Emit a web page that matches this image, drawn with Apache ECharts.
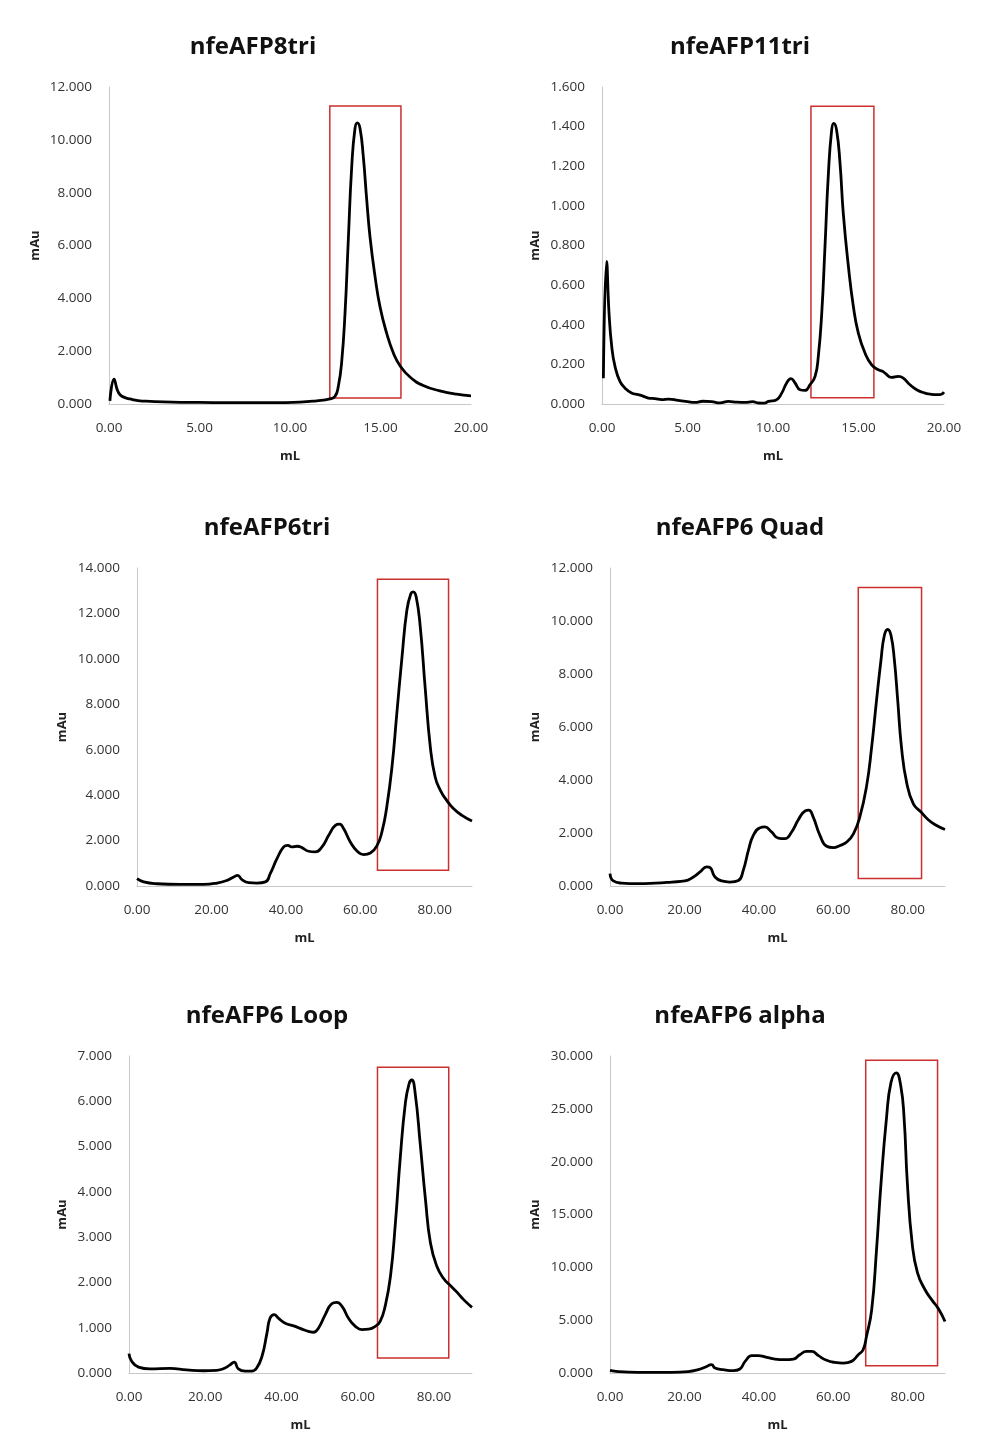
<!DOCTYPE html>
<html><head><meta charset="utf-8">
<script src="https://cdn.jsdelivr.net/npm/echarts@6/dist/echarts.min.js"></script>
<style>html,body{margin:0;padding:0;background:#fff}#c{width:990px;height:1453px}</style>
</head><body><div id="c"></div>
<script>
// Chart titles
const titles = ['nfeAFP8tri', 'nfeAFP11tri', 'nfeAFP6tri', 'nfeAFP6 Quad', 'nfeAFP6 Loop', 'nfeAFP6 alpha'];

// nfeAFP8tri
const ml1 = [0.05, 0.28, 0.45, 0.61, 0.85, 1.16, 1.6, 2.27, 3.5, 5, 7, 9, 10.55, 11.47, 12.2, 12.49, 12.67, 12.85, 13.04, 13.22, 13.41, 13.59, 13.72, 13.87, 14.05, 14.24, 14.42, 14.7, 14.97, 15.34, 15.71, 16.08, 16.63, 17.36, 18.28, 19.2, 20.0];
const mau1 = [0.12, 0.94, 0.55, 0.35, 0.25, 0.19, 0.13, 0.1, 0.07, 0.06, 0.05, 0.05, 0.07, 0.12, 0.19, 0.29, 0.67, 1.55, 3.44, 6.2, 8.98, 10.43, 10.64, 10.43, 9.36, 7.72, 6.33, 4.82, 3.69, 2.68, 1.93, 1.45, 1.02, 0.7, 0.5, 0.37, 0.31];

// nfeAFP11tri
const ml2 = [0.08, 0.27, 0.41, 0.57, 0.76, 1.05, 1.35, 1.73, 2.12, 2.4, 2.71, 3.1, 3.49, 3.9, 4.46, 5.0, 5.44, 5.9, 6.41, 6.9, 7.39, 7.9, 8.36, 8.8, 9.14, 9.5, 9.73, 10.21, 10.51, 10.8, 11.05, 11.29, 11.58, 11.87, 12.16, 12.46, 12.65, 12.85, 13.04, 13.24, 13.43, 13.55, 13.72, 13.92, 14.11, 14.41, 14.7, 14.99, 15.38, 15.77, 16.16, 16.4, 16.55, 16.94, 17.33, 17.62, 18.01, 18.4, 18.89, 19.2, 19.47, 19.77, 20.0];
const mau2 = [0.13, 0.72, 0.46, 0.29, 0.19, 0.114, 0.08, 0.055, 0.047, 0.04, 0.03, 0.027, 0.022, 0.025, 0.018, 0.012, 0.008, 0.014, 0.012, 0.006, 0.013, 0.009, 0.008, 0.012, 0.005, 0.004, 0.013, 0.022, 0.055, 0.106, 0.128, 0.106, 0.072, 0.069, 0.097, 0.139, 0.24, 0.458, 0.794, 1.164, 1.382, 1.416, 1.382, 1.214, 0.962, 0.694, 0.492, 0.358, 0.257, 0.198, 0.173, 0.165, 0.156, 0.134, 0.139, 0.131, 0.097, 0.072, 0.055, 0.05, 0.047, 0.047, 0.06];

// nfeAFP6tri
const ml3 = [0, 1.8, 5.4, 11.6, 17.9, 21.5, 24.2, 26, 27.03, 28.2, 30, 32.2, 34.5, 35.8, 37.6, 39.4, 40.5, 41.6, 43, 44.3, 46.1, 47.9, 49.7, 51.5, 53.3, 54.4, 55.5, 57.3, 59.1, 60.9, 62.7, 64.5, 65.8, 67.1, 68.5, 69.8, 71.2, 72.5, 73.6, 74.2, 75, 76.1, 77.4, 78.8, 80.1, 81.5, 83.2, 85, 87.3, 90];
const mau3 = [0.32, 0.18, 0.1, 0.07, 0.07, 0.13, 0.25, 0.4, 0.47, 0.28, 0.15, 0.13, 0.18, 0.54, 1.2, 1.72, 1.79, 1.72, 1.75, 1.69, 1.53, 1.5, 1.72, 2.23, 2.67, 2.72, 2.53, 1.94, 1.54, 1.38, 1.45, 1.79, 2.38, 3.48, 5.24, 7.59, 10.09, 12.14, 12.88, 12.95, 12.73, 11.41, 8.77, 6.12, 4.8, 4.21, 3.77, 3.41, 3.11, 2.86];

// nfeAFP6 Quad
const ml4 = [0, 0.9, 3.1, 7.6, 12.1, 16.6, 20.1, 22.4, 24.2, 26, 26.9, 28.2, 30, 32.2, 34.5, 35.8, 37.2, 38.5, 40.3, 41.6, 43.4, 45.2, 47, 48.8, 50.6, 52.4, 53.4, 54.6, 56.4, 58.2, 60, 61.8, 63.6, 65.4, 67.1, 68.9, 70.3, 71.6, 72.8, 73.7, 74.6, 75.5, 76.4, 77.3, 78.3, 79.7, 81.5, 83.5, 85.5, 87.5, 90];
const mau4 = [0.47, 0.19, 0.11, 0.09, 0.11, 0.15, 0.19, 0.34, 0.53, 0.72, 0.69, 0.34, 0.19, 0.15, 0.21, 0.59, 1.35, 1.91, 2.2, 2.23, 2.04, 1.81, 1.79, 2.04, 2.5, 2.83, 2.86, 2.6, 1.91, 1.5, 1.45, 1.53, 1.66, 1.97, 2.6, 3.74, 5.25, 7.0, 8.52, 9.45, 9.68, 9.45, 8.52, 7.0, 5.25, 3.9, 3.1, 2.8, 2.5, 2.3, 2.13];

// nfeAFP6 Loop
const ml5 = [0, 0.7, 2.5, 5.5, 10.8, 15.1, 19.5, 23, 25.2, 26.5, 27.6, 28.7, 30.5, 32.2, 33.5, 34.9, 36.2, 37.0, 38.1, 39.2, 41, 43.2, 45.4, 47.1, 48.4, 49.7, 51.5, 53.2, 54.5, 55.9, 57.6, 59.4, 61.1, 62.9, 64.6, 65.9, 67.2, 68.6, 69.9, 71.2, 72.5, 73.5, 74.2, 75.1, 76.4, 77.8, 79.1, 80.8, 82.6, 84.3, 86.1, 87.8, 90];
const mau5 = [0.43, 0.26, 0.13, 0.09, 0.1, 0.07, 0.05, 0.06, 0.11, 0.18, 0.24, 0.09, 0.04, 0.04, 0.11, 0.37, 0.88, 1.21, 1.29, 1.21, 1.1, 1.04, 0.97, 0.92, 0.9, 0.99, 1.29, 1.53, 1.56, 1.47, 1.21, 1.03, 0.96, 0.97, 1.03, 1.14, 1.47, 2.13, 3.31, 4.78, 5.95, 6.39, 6.47, 6.17, 5.07, 3.82, 2.87, 2.35, 2.08, 1.93, 1.78, 1.62, 1.45];

// nfeAFP6 alpha
const ml6 = [0, 2.2, 7.6, 16.6, 21, 23.7, 25.5, 27.3, 28.2, 30.4, 33.1, 34.9, 36.3, 38.1, 39.8, 42.1, 44.3, 47, 49.3, 51, 52.8, 54.2, 56, 58.2, 60.4, 62.7, 64.9, 66.7, 68.0, 68.9, 70.3, 71.6, 72.8, 74.3, 75.5, 76.9, 78.1, 79.0, 79.9, 81.2, 82.6, 84.6, 86.5, 88.2, 90];
const mau6 = [0.25, 0.13, 0.06, 0.06, 0.13, 0.31, 0.54, 0.79, 0.47, 0.31, 0.22, 0.38, 1.1, 1.64, 1.64, 1.48, 1.32, 1.26, 1.32, 1.73, 2.05, 2.05, 1.64, 1.2, 1.0, 0.94, 1.1, 1.73, 2.2, 3.46, 5.98, 11.65, 17.9, 24.2, 27.5, 28.4, 27.2, 24.2, 17.9, 12.2, 9.5, 7.9, 6.9, 6.1, 4.87];

// Red highlight boxes [x1, y1, x2, y2] in data units
const box1 = [12.2, 0.23, 16.13, 11.28];
const box2 = [12.22, 0.032, 15.9, 1.503];
const box3 = [64.6, 0.69, 83.7, 13.5];
const box4 = [66.7, 0.28, 83.7, 11.26];
const box5 = [65.2, 0.33, 83.9, 6.75];
const box6 = [68.7, 0.69, 88.0, 29.6];

// Axis ranges
const yMax = [12, 1.6, 14, 12, 7, 30];
const yStep = [2, 0.2, 2, 2, 1, 5];
const xMax = [20, 20, 90, 90, 90, 90];
const xStep = [5, 5, 20, 20, 20, 20];

const xs = [ml1, ml2, ml3, ml4, ml5, ml6];
const ys = [mau1, mau2, mau3, mau4, mau5, mau6];
const boxes = [box1, box2, box3, box4, box5, box6];

// layout
const grids = [
  {left:109, top:87, width:362, height:317},
  {left:602, top:87, width:342, height:317},
  {left:137, top:568, width:335, height:318},
  {left:610, top:568, width:335, height:318},
  {left:129, top:1056, width:343, height:317},
  {left:610, top:1056, width:335, height:317}
];
const titlePos = [[253,47],[740,47],[267,528],[740,528],[267,1016],[740,1016]];
const yNameGap = [67, 60, 68, 68, 60, 68];

const FONT = "'Open Sans', 'Noto Sans', sans-serif";
const axisLineColor = '#c8c8c8';

const option = {
  backgroundColor: '#fff',
  animation: false,
  title: titles.map((t,i)=>({
    text: t, left: titlePos[i][0], top: titlePos[i][1], textAlign:'center', textVerticalAlign:'middle', padding:0,
    textStyle:{fontFamily:FONT, fontWeight:'bold', fontSize:24, color:'#111'}
  })),
  grid: grids.map(g=>Object.assign({containLabel:false, outerBoundsMode:'none'}, g)),
  xAxis: xs.map((_,i)=>({
    type:'value', gridIndex:i, min:0, max:xMax[i], interval:xStep[i],
    name:'mL', nameLocation:'middle', nameGap:46,
    nameTextStyle:{fontFamily:FONT, fontWeight:'bold', fontSize:13, color:'#222'},
    axisLine:{show:true, onZero:false, lineStyle:{color:axisLineColor, width:1}},
    axisTick:{show:false}, splitLine:{show:false},
    axisLabel:{fontFamily:FONT, fontSize:13.5, color:'#333', margin:17, showMaxLabel: xMax[i] % xStep[i] === 0,
      formatter: v => v.toFixed(2)}
  })),
  yAxis: ys.map((_,i)=>({
    type:'value', gridIndex:i, min:0, max:yMax[i], interval:yStep[i],
    name:'mAu', nameLocation:'middle', nameGap:yNameGap[i],
    nameTextStyle:{fontFamily:FONT, fontWeight:'bold', fontSize:13, color:'#222'},
    axisLine:{show:true, lineStyle:{color:axisLineColor, width:1}},
    axisTick:{show:false}, splitLine:{show:false},
    axisLabel:{fontFamily:FONT, fontSize:13.5, color:'#333', margin:17,
      formatter: v => v.toFixed(3)}
  })),
  series: xs.map((x,i)=>({
    type:'line', xAxisIndex:i, yAxisIndex:i,
    data: x.map((v,k)=>[v, ys[i][k]]),
    smooth:0.5, symbol:'none', showSymbol:false,
    lineStyle:{color:'#000', width:2.8},
    markArea:{silent:true, label:{show:false},
      itemStyle:{color:'rgba(0,0,0,0)', borderColor:'#cc2f2f', borderWidth:1.5},
      data:[[{coord:[boxes[i][0], boxes[i][1]]},{coord:[boxes[i][2], boxes[i][3]]}]]}
  }))
};
const chart = echarts.init(document.getElementById('c'), null, {renderer:'canvas'});
chart.setOption(option);
</script></body></html>
